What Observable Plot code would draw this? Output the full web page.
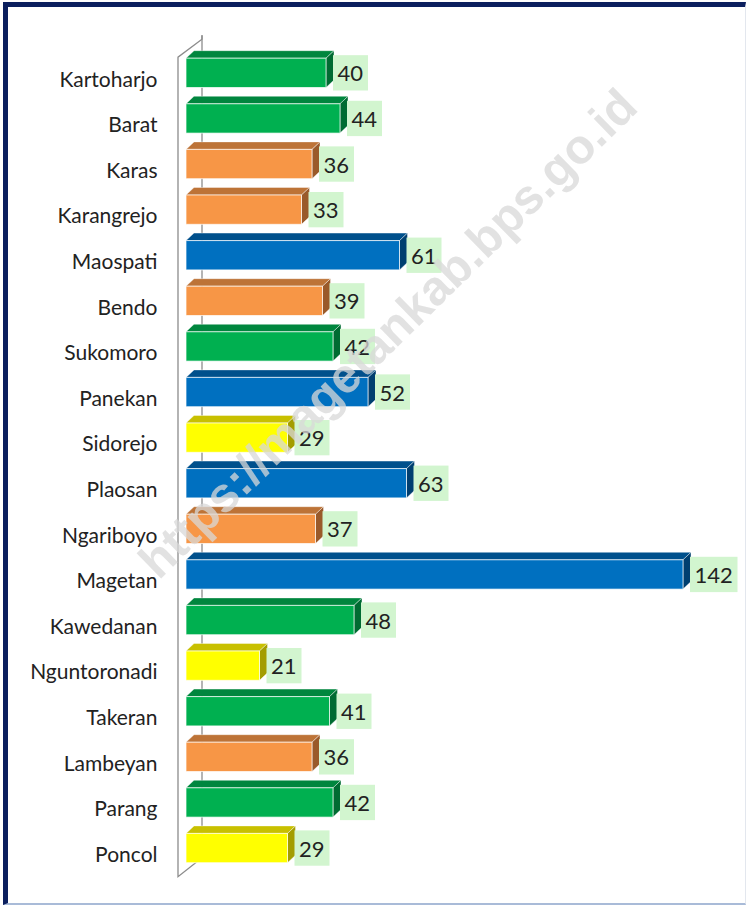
<!DOCTYPE html>
<html><head><meta charset="utf-8">
<script src="https://cdn.jsdelivr.net/npm/d3@7"></script>
<script src="https://cdn.jsdelivr.net/npm/@observablehq/plot@0.6"></script>
<style>
html,body{margin:0;padding:0;background:#fff;}
#wrap{position:relative;width:752px;height:905px;overflow:hidden;background:#fff;}
#frame{position:absolute;left:3px;top:2px;width:743px;height:903px;border-top:5px solid #0b1f5e;border-left:5px solid #0b1f5e;border-right:1px solid #e3e7ee;border-bottom:2px solid #a9bbd8;box-sizing:border-box;pointer-events:none;}
</style></head><body>
<div id="wrap"><div id="chart"></div><div id="frame"></div></div>
<script>
const kecamatan = ["Kartoharjo","Barat","Karas","Karangrejo","Maospati","Bendo","Sukomoro","Panekan","Sidorejo","Plaosan","Ngariboyo","Magetan","Kawedanan","Nguntoronadi","Takeran","Lambeyan","Parang","Poncol"];
const jumlah = [40,44,36,33,61,39,42,52,29,63,37,142,48,21,41,36,42,29];
const kelompok = ["hijau","hijau","oranye","oranye","biru","oranye","hijau","biru","kuning","biru","oranye","biru","hijau","kuning","hijau","oranye","hijau","kuning"];
const warnaDepan = {hijau:"#00b050", oranye:"#f79646", biru:"#0070c0", kuning:"#ffff00"};
const warnaAtas = {hijau:"#00863e", oranye:"#bd7337", biru:"#00508c", kuning:"#c8c000"};
const warnaSisi = {hijau:"#006b32", oranye:"#9a5a2a", biru:"#003f70", kuning:"#a39d00"};
const watermark = "https://magetankab.bps.go.id";

const data = kecamatan.map((k, i) => ({kecamatan: k, jumlah: jumlah[i], kelompok: kelompok[i]}));
const DX = 8, DY = -7.5;

function bw(y) { return typeof y.bandwidth === "function" ? y.bandwidth() : 29.3; }

function dinding(index, scales) {
  const x = scales.x, y = scales.y, b = bw(y);
  const x0 = x(0);
  const yTop = y(kecamatan[0]), yBot = y(kecamatan[kecamatan.length - 1]) + b;
  const g = d3.create("svg:g").attr("fill", "none").attr("stroke", "#8c8c8c").attr("stroke-width", 1.3);
  g.append("path").attr("d", `M${x0 + 16},${yTop - 23}L${x0 + 16},${yBot - 5}`);
  g.append("path").attr("d", `M${x0 + 16},${yTop - 23}L${x0 + 16},${yTop - 19}L${x0 - 8},${yTop - 1}L${x0 - 8},${yBot + 14}L${x0 + 16},${yBot - 5}`);
  return g.node();
}

function sisi3d(index, scales) {
  const x = scales.x, y = scales.y, b = bw(y);
  const x0 = x(0);
  const g = d3.create("svg:g");
  for (const d of data) {
    const yt = y(d.kecamatan), yb = yt + b, xe = x(d.jumlah);
    g.append("path").attr("d", `M${x0},${yt}L${xe},${yt}L${xe + DX},${yt + DY}L${x0 + DX},${yt + DY}Z`)
      .attr("fill", warnaAtas[d.kelompok]).attr("stroke", "#ffffff").attr("stroke-opacity", 0.5).attr("stroke-width", 0.8);
    g.append("path").attr("d", `M${xe},${yt}L${xe + DX},${yt + DY}L${xe + DX},${yb + DY}L${xe},${yb}Z`)
      .attr("fill", warnaSisi[d.kelompok]).attr("stroke", "#ffffff").attr("stroke-opacity", 0.5).attr("stroke-width", 0.8);
  }
  return g.node();
}

function kotakLabel(index, scales) {
  const x = scales.x, y = scales.y, b = bw(y);
  const g = d3.create("svg:g");
  for (const d of data) {
    const yt = y(d.kecamatan), xe = x(d.jumlah);
    const w = 10 + 12.5 * String(d.jumlah).length;
    g.append("rect").attr("x", xe + 7).attr("y", yt - 3).attr("width", w).attr("height", b + 6).attr("fill", "#d2f5cf");
  }
  return g.node();
}

const chart = Plot.plot({
  width: 752,
  height: 905,
  marginLeft: 186,
  marginRight: 6,
  marginTop: 42,
  marginBottom: 26,
  x: {domain: [0, 160], axis: null},
  y: {domain: kecamatan, range: [41.9, 879], paddingInner: 0.357, paddingOuter: 0.357, round: false, axis: null},
  style: {background: "transparent", fontFamily: "Lato, 'Open Sans', sans-serif"},
  marks: [
    dinding,
    sisi3d,
    Plot.barX(data, {x: "jumlah", y: "kecamatan", fill: d => warnaDepan[d.kelompok], stroke: "#ffffff", strokeOpacity: 0.7, strokeWidth: 1}),
    kotakLabel,
    Plot.text(data, {x: "jumlah", y: "kecamatan", text: d => String(d.jumlah), textAnchor: "start", dx: 11, dy: 1, fontSize: 22, fill: "#222"}),
    Plot.text(data, {x: 0, y: "kecamatan", text: "kecamatan", textAnchor: "end", dx: -29, dy: 6.5, fontSize: 21, fill: "#222"}),
    Plot.text([watermark], {frameAnchor: "middle", text: d => d, rotate: -44.4, fontSize: 48.5, fontWeight: "bold", fontFamily: "'Liberation Sans', Arial, sans-serif", fill: "#d8d8d8", fillOpacity: 0.75, dx: -78, dy: -127})
  ]
});
document.getElementById("chart").appendChild(chart);
</script>
</body></html>
